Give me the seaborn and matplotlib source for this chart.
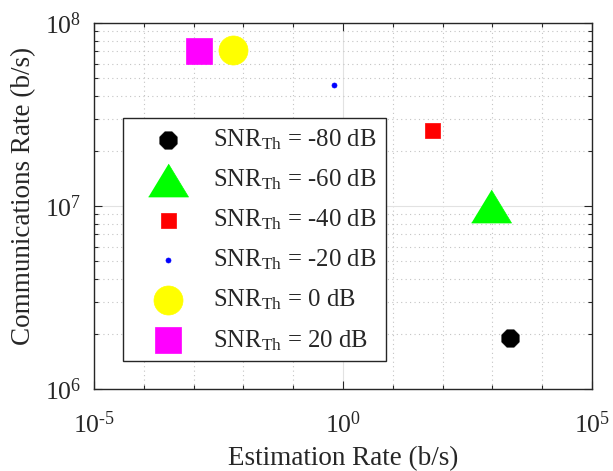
import numpy as np
import pandas as pd
import matplotlib
matplotlib.use("Agg")
import matplotlib.pyplot as plt
import seaborn as sns
from matplotlib.ticker import FixedLocator, FuncFormatter, NullFormatter

# ---- data ----
snr_db = [-80, -60, -40, -20, 0, 20]
est_rate = [2.26e3, 9.4e2, 61.0, 0.65, 6.1e-3, 1.26e-3]
comm_rate = [1.89e6, 1.0e7, 2.6e7, 4.6e7, 7.1e7, 7.06e7]
colors = ["#000000", "#00FF00", "#FF0000", "#0000FF", "#FFFF00", "#FF00FF"]
tri = [(-1, -0.825), (1, -0.825), (0, 0.825)]
markers = ["8", tri, "s", "o", "o", "s"]
sizes_pt = [13.5, 28.8, 10.8, 3.6, 20.9, 18.7]
x_ticks = [1e-5, 1e0, 1e5]
y_ticks = [1e6, 1e7, 1e8]

df = pd.DataFrame({"snr": snr_db, "est": est_rate, "comm": comm_rate})

sns.set_style("ticks")
plt.rcParams["font.family"] = ["Liberation Serif", "DejaVu Serif"]
plt.rcParams["mathtext.fontset"] = "custom"
plt.rcParams["mathtext.rm"] = "Liberation Serif"
plt.rcParams["mathtext.it"] = "Liberation Serif:italic"
plt.rcParams["mathtext.bf"] = "Liberation Serif:bold"

fig = plt.figure(figsize=(6.13, 4.71), dpi=100)
ax = fig.add_axes([0.1533, 0.1741, 0.8124, 0.7771])
ax.set_xscale("log")
ax.set_yscale("log")

for i in range(len(df)):
    sns.scatterplot(data=df.iloc[[i]], x="est", y="comm", ax=ax,
                    marker=markers[i], s=sizes_pt[i] ** 2, color=colors[i],
                    edgecolor=colors[i], linewidth=0.5,
                    label=r"SNR$_{\mathrm{Th}}$ = %d dB" % snr_db[i], zorder=3)

ax.set_xlim(1e-5, 1e5)
ax.set_ylim(1e6, 1e8)


def pow10(v, pos):
    e = int(round(np.log10(v)))
    return r"$\mathregular{10^{\text{%d}}}$" % e


ax.xaxis.set_major_locator(FixedLocator(x_ticks))
ax.xaxis.set_minor_locator(FixedLocator([10.0 ** k for k in range(-4, 5) if k != 0]))
ax.yaxis.set_major_locator(FixedLocator(y_ticks))
ax.yaxis.set_minor_locator(FixedLocator([m * 10.0 ** k for k in (6, 7) for m in range(2, 10)]))
ax.xaxis.set_major_formatter(FuncFormatter(pow10))
ax.yaxis.set_major_formatter(FuncFormatter(pow10))
ax.xaxis.set_minor_formatter(NullFormatter())
ax.yaxis.set_minor_formatter(NullFormatter())

ax.grid(True, which="major", color="#e2e2e2", linestyle="-", linewidth=0.8, zorder=0)
ax.grid(True, which="minor", color="#c4c4c4", linestyle=(0, (1, 3)), linewidth=0.8, zorder=0)
ax.set_axisbelow(True)

ax.tick_params(which="both", direction="in", top=True, right=True, colors="#262626")
ax.tick_params(which="major", length=6, width=0.8, labelsize=18.5, pad=9, labelcolor="#262626")
ax.tick_params(which="minor", length=3, width=0.8)
ax.tick_params(axis="x", which="major", pad=16)
for sp in ax.spines.values():
    sp.set_color("#262626")
    sp.set_linewidth(1.0)

ax.set_xlabel("Estimation Rate (b/s)", fontsize=19.5, color="#262626", labelpad=6)
ax.set_ylabel("Communications Rate (b/s)", fontsize=19.5, color="#262626")
ax.yaxis.set_label_coords(-0.116, 0.527)

leg = ax.legend(loc="upper left", bbox_to_anchor=(0.058, 0.740), borderaxespad=0,
                fontsize=17.8, frameon=True, fancybox=False, edgecolor="#262626",
                framealpha=1, labelspacing=0.63, handletextpad=0.4, borderpad=0.36,
                handlelength=2.9)
leg.get_frame().set_linewidth(1.0)

fig.savefig("out.png", dpi=100)
